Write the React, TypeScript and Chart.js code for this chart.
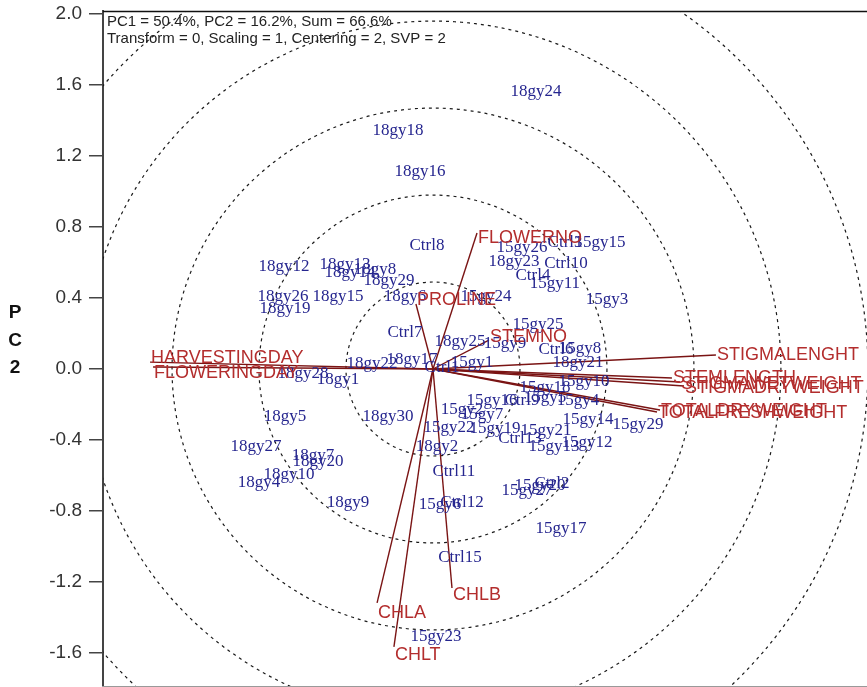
import React, { useEffect, useRef } from "react";
import { Chart, registerables } from "chart.js";

Chart.register(...registerables);

// ---- Data ----
const genotypeNames = [
  "18gy24", "18gy18", "18gy16", "Ctrl8", "15gy26", "Ctrl3", "15gy15", "18gy23", "Ctrl10", "Ctrl4",
  "15gy11", "15gy3", "18gy12", "18gy13", "18gy14", "18gy8", "18gy29", "18gy26", "18gy19", "18gy15",
  "18gy6", "15gy24", "15gy25", "Ctrl7", "18gy25", "15gy9", "Ctrl6", "15gy8", "18gy21", "18gy22",
  "18gy17", "Ctrl1", "15gy1", "18gy28", "18gy1", "18gy5", "18gy30", "18gy27", "18gy7", "18gy20",
  "18gy10", "18gy4", "18gy9", "18gy2", "15gy22", "15gy2", "15gy7", "15gy16", "Ctrl9", "15gy5",
  "15gy4", "15gy19", "15gy21", "Ctrl13", "15gy13", "15gy12", "15gy14", "15gy29", "15gy10", "15gy18",
  "Ctrl11", "15gy6", "Ctrl12", "15gy27", "15gy20", "Ctrl2", "15gy17", "Ctrl15", "15gy23"
];
const genotypePC1 = [
  0.580, -0.197, -0.073, -0.034, 0.501, 0.744, 0.941, 0.456, 0.749, 0.563,
  0.687, 0.980, -0.839, -0.496, -0.468, -0.327, -0.248, -0.845, -0.834, -0.535,
  -0.158, 0.299, 0.592, -0.158, 0.152, 0.406, 0.693, 0.828, 0.817, -0.344,
  -0.118, 0.051, 0.220, -0.732, -0.535, -0.834, -0.254, -0.997, -0.676, -0.648,
  -0.811, -0.980, -0.479, 0.023, 0.090, 0.163, 0.276, 0.332, 0.501, 0.631,
  0.817, 0.349, 0.637, 0.490, 0.682, 0.868, 0.873, 1.155, 0.851, 0.631,
  0.118, 0.039, 0.163, 0.530, 0.603, 0.670, 0.721, 0.152, 0.017
];
const genotypePC2 = [
  1.561, 1.346, 1.110, 0.693, 0.687, 0.710, 0.710, 0.603, 0.592, 0.524,
  0.479, 0.389, 0.580, 0.586, 0.541, 0.558, 0.501, 0.406, 0.338, 0.406,
  0.406, 0.411, 0.248, 0.208, 0.152, 0.146, 0.107, 0.118, 0.034, 0.028,
  0.051, 0.006, 0.039, -0.023, -0.062, -0.270, -0.265, -0.439, -0.485, -0.524,
  -0.597, -0.637, -0.755, -0.439, -0.332, -0.231, -0.254, -0.175, -0.175, -0.158,
  -0.175, -0.338, -0.344, -0.394, -0.434, -0.417, -0.287, -0.315, -0.068, -0.107,
  -0.580, -0.766, -0.755, -0.682, -0.659, -0.648, -0.896, -1.065, -1.510
];

const traitNames = [
  "STIGMALENGHT", "STEMLENGTH", "STIGMAWETWEIGHT", "STIGMADRYWEIGHT", "TOTALFRESHWEIGHT",
  "TOTALDRYWEIGHT", "HARVESTINGDAY", "FLOWERINGDAY", "FLOWERNO", "PROLINE", "STEMNO",
  "CHLA", "CHLT", "CHLB"
];
const traitPC1 = [1.594, 1.346, 1.392, 1.414, 1.262, 1.279, -1.594, -1.577, 0.248, -0.096, 0.315, -0.315, -0.220, 0.107];
const traitPC2 = [0.079, -0.051, -0.073, -0.096, -0.242, -0.231, 0.039, 0.011, 0.766, 0.366, 0.163, -1.318, -1.566, -1.234];

const yTickValues = [-1.6, -1.2, -0.8, -0.4, 0.0, 0.4, 0.8, 1.2, 1.6, 2.0];
const circleRadii = [0.49, 0.98, 1.47, 1.96, 2.45];
const headerLines = [
  "PC1 = 50.4%, PC2 = 16.2%, Sum = 66.6%",
  "Transform = 0, Scaling = 1, Centering = 2, SVP = 2",
];
const yTitleLetters = ["P", "C", "2"];

// label vertical nudges (px), style only
const traitLabelDy = [0, 0, 2, 2, 1, 1, -4, 6, 5, -4, -3, 10, 8, 7];

const X_MIN = -1.859;
const X_MAX = 2.445;
const Y_MIN = -1.786;
const Y_MAX = 2.017;

const GENO_COLOR = "#26268f";
const TRAIT_LINE = "#7a1414";
const TRAIT_TEXT = "#b32d2d";

const biplotPlugin = {
  id: "biplotDecor",
  beforeDatasetsDraw(chart: any) {
    const { ctx, chartArea, scales } = chart;
    const x = scales.x;
    const y = scales.y;
    const cx = x.getPixelForValue(0);
    const cy = y.getPixelForValue(0);
    ctx.save();
    ctx.beginPath();
    ctx.rect(chartArea.left, chartArea.top, chartArea.right - chartArea.left, chartArea.bottom - chartArea.top);
    ctx.clip();
    ctx.setLineDash([3, 4]);
    ctx.strokeStyle = "#1a1a1a";
    ctx.lineWidth = 1.2;
    for (const r of circleRadii) {
      const rp = x.getPixelForValue(r) - cx;
      ctx.beginPath();
      ctx.arc(cx, cy, rp, 0, Math.PI * 2);
      ctx.stroke();
    }
    ctx.restore();
  },
  afterDatasetsDraw(chart: any) {
    const { ctx } = chart;
    const genoMeta = chart.getDatasetMeta(traitNames.length);
    ctx.save();
    ctx.font = "17px 'Liberation Serif', 'Times New Roman', serif";
    ctx.fillStyle = GENO_COLOR;
    ctx.textAlign = "center";
    ctx.textBaseline = "middle";
    genoMeta.data.forEach((el: any, i: number) => {
      ctx.fillText(genotypeNames[i], el.x, el.y);
    });
    ctx.font = "18px 'Liberation Sans', Arial, sans-serif";
    ctx.fillStyle = TRAIT_TEXT;
    ctx.textAlign = "left";
    for (let i = 0; i < traitNames.length; i++) {
      const meta = chart.getDatasetMeta(i);
      const end = meta.data[1];
      ctx.fillText(traitNames[i], end.x + 1, end.y + traitLabelDy[i]);
    }
    ctx.restore();
  },
  afterDraw(chart: any) {
    const { ctx, chartArea } = chart;
    ctx.save();
    // top border
    ctx.strokeStyle = "#111";
    ctx.lineWidth = 1.5;
    ctx.beginPath();
    ctx.moveTo(chartArea.left, chartArea.top + 0.5);
    ctx.lineTo(chartArea.right, chartArea.top + 0.5);
    ctx.stroke();
    // bottom line
    ctx.strokeStyle = "#999";
    ctx.lineWidth = 1;
    ctx.beginPath();
    ctx.moveTo(chartArea.left, chartArea.bottom + 0.5);
    ctx.lineTo(chartArea.right, chartArea.bottom + 0.5);
    ctx.stroke();
    // header
    ctx.font = "15px 'Liberation Sans', Arial, sans-serif";
    ctx.fillStyle = "#222";
    ctx.textAlign = "left";
    ctx.textBaseline = "middle";
    ctx.fillText(headerLines[0], chartArea.left + 4, chartArea.top + 11);
    ctx.fillText(headerLines[1], chartArea.left + 4, chartArea.top + 28);
    // y title
    ctx.font = "bold 19px 'Liberation Sans', Arial, sans-serif";
    ctx.fillStyle = "#111";
    ctx.textAlign = "center";
    yTitleLetters.forEach((ch, i) => {
      ctx.fillText(ch, 15, 313 + i * 27.5);
    });
    ctx.restore();
  },
};

export default function App() {
  const canvasRef = useRef<HTMLCanvasElement | null>(null);

  useEffect(() => {
    const canvas = canvasRef.current;
    if (!canvas) return;

    const traitDatasets = traitNames.map((name, i) => ({
      label: name,
      data: [
        { x: 0, y: 0 },
        { x: traitPC1[i], y: traitPC2[i] },
      ],
      showLine: true,
      borderColor: TRAIT_LINE,
      borderWidth: 1.4,
      pointRadius: 0,
      pointHoverRadius: 0,
      fill: false,
    }));

    const genoDataset = {
      label: "Genotypes",
      data: genotypeNames.map((_, i) => ({ x: genotypePC1[i], y: genotypePC2[i] })),
      pointRadius: 0,
      pointHoverRadius: 0,
      showLine: false,
    };

    const chart = new Chart(canvas, {
      type: "scatter",
      data: { datasets: [...traitDatasets, genoDataset] as any },
      options: {
        animation: false,
        responsive: true,
        maintainAspectRatio: false,
        layout: { padding: { left: 0, top: 11, right: 0, bottom: 1 } },
        plugins: {
          legend: { display: false },
          tooltip: { enabled: false },
        },
        events: [],
        scales: {
          x: {
            type: "linear",
            min: X_MIN,
            max: X_MAX,
            display: false,
          },
          y: {
            type: "linear",
            min: Y_MIN,
            max: Y_MAX,
            afterBuildTicks: (scale: any) => {
              scale.ticks = yTickValues.map((v) => ({ value: v }));
            },
            afterFit: (scale: any) => {
              scale.width = 103;
              scale.paddingTop = 0;
              scale.paddingBottom = 0;
            },
            ticks: {
              color: "#333",
              font: { family: "'Liberation Sans', Arial, sans-serif", size: 19 },
              padding: 7,
              callback: (v: any) => Number(v).toFixed(1),
            },
            grid: {
              drawOnChartArea: false,
              drawTicks: true,
              tickLength: 14,
              color: "#444",
              lineWidth: 1.5,
            },
            border: { display: true, color: "#444", width: 2 },
          },
        },
      },
      plugins: [biplotPlugin],
    });

    return () => chart.destroy();
  }, []);

  return (
    <div style={{ position: "fixed", left: 0, top: 0, width: 867, height: 687, background: "#fff" }}>
      <canvas ref={canvasRef} />
    </div>
  );
}
